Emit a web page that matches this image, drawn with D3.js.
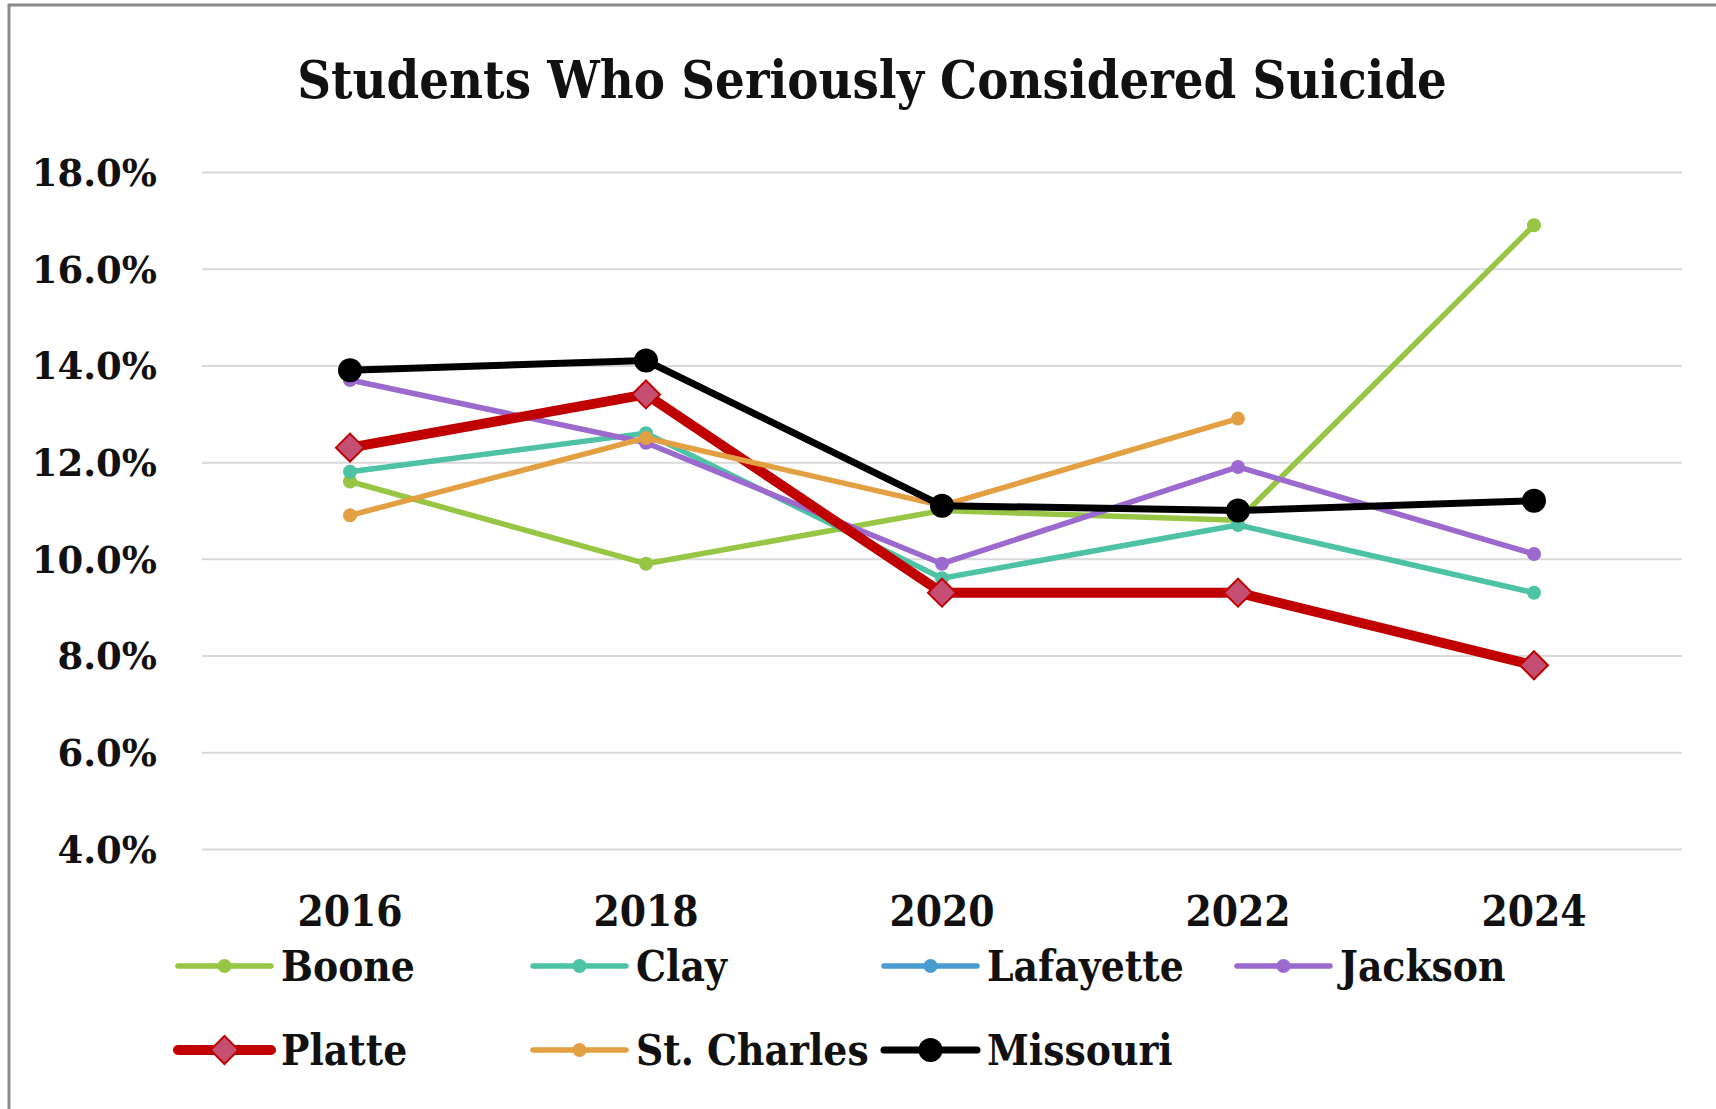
<!DOCTYPE html>
<html><head><meta charset="utf-8">
<script src="https://cdn.jsdelivr.net/npm/d3@7"></script>
<style>html,body{margin:0;padding:0;background:#fff;}svg{display:block;}</style>
</head><body>
<svg id="chart" width="1716" height="1109"></svg>
<script>
const years = ["2016","2018","2020","2022","2024"];
const yTicks = [4,6,8,10,12,14,16,18];
const boone = [11.6, 9.9, 11.0, 10.8, 16.9];
const clay = [11.8, 12.6, 9.6, 10.7, 9.3];
const lafayette = [null, null, null, null, null];
const jackson = [13.7, 12.4, 9.9, 11.9, 10.1];
const platte = [12.3, 13.4, 9.3, 9.3, 7.8];
const stCharles = [10.9, 12.5, 11.1, 12.9, null];
const missouri = [13.9, 14.1, 11.1, 11.0, 11.2];
const seriesNames = ["Boone","Clay","Lafayette","Jackson","Platte","St. Charles","Missouri"];

const styles = {
  "Boone": {color:"#97C544", w:5.5, r:7, marker:"circle"},
  "Clay": {color:"#4EC2A4", w:5.5, r:7, marker:"circle"},
  "Lafayette": {color:"#4A9BD0", w:5.5, r:7, marker:"circle"},
  "Jackson": {color:"#9C69CF", w:5.5, r:7, marker:"circle"},
  "Platte": {color:"#C00000", w:10, r:14, marker:"diamond", fill:"#C44F72"},
  "St. Charles": {color:"#E3A043", w:5.5, r:7, marker:"circle"},
  "Missouri": {color:"#000000", w:7, r:12, marker:"circle"}
};
const seriesValues = [boone, clay, lafayette, jackson, platte, stCharles, missouri];
const series = seriesNames.map((n,i)=>({name:n, values:seriesValues[i]}));

const svg = d3.select("#chart");
const serif = "'DejaVu Serif Condensed','DejaVu Serif',serif";

// frame
svg.append("rect").attr("x",0).attr("y",0).attr("width",1716).attr("height",1109).attr("fill","#fff");
svg.append("line").attr("x1",9).attr("x2",9).attr("y1",4).attr("y2",1109).attr("stroke","#8a8a8a").attr("stroke-width",3);
svg.append("line").attr("x1",8).attr("x2",1716).attr("y1",5).attr("y2",5).attr("stroke","#8a8a8a").attr("stroke-width",3);

const x = d3.scaleBand().domain(years).range([202,1682]).padding(0);
const y = d3.scaleLinear().domain([4,18]).range([849,172]);

// gridlines
const grid = svg.append("g").attr("transform","translate(202,0)")
  .call(d3.axisLeft(y).tickValues(yTicks).tickSize(-1480).tickFormat(""));
grid.select(".domain").remove();
grid.selectAll("line").attr("stroke","#d9d9d9").attr("stroke-width",2);

// y labels
const yAx = svg.append("g").attr("transform","translate(157,0)")
  .call(d3.axisLeft(y).tickValues(yTicks).tickSize(0).tickPadding(0).tickFormat(d=>d.toFixed(1)+"%"));
yAx.select(".domain").remove();
yAx.selectAll("text").attr("font-family","'DejaVu Serif',serif").attr("font-weight","bold")
  .attr("font-size",37).attr("fill","#111").attr("dy","0.36em");

// x labels
const xAx = svg.append("g").attr("transform","translate(0,896)")
  .call(d3.axisBottom(x).tickSize(0).tickPadding(0));
xAx.select(".domain").remove();
xAx.selectAll("text").attr("font-family",serif).attr("font-weight","bold").attr("font-size",42).attr("fill","#111").attr("dy","0.72em");

// title
svg.append("text").attr("x",872).attr("y",98).attr("text-anchor","middle")
  .attr("font-family",serif).attr("font-weight","bold").attr("font-size",52).attr("fill","#111")
  .text("Students Who Seriously Considered Suicide");

const line = d3.line().defined(d=>d.v!=null).x(d=>x(d.k)+x.bandwidth()/2).y(d=>y(d.v));
const diamond = r => `M0,${-r}L${r},0L0,${r}L${-r},0Z`;

function drawMarker(g, st, cx, cy){
  if(st.marker==="diamond"){
    g.append("path").attr("d",diamond(st.r)).attr("transform",`translate(${cx},${cy})`)
      .attr("fill",st.fill).attr("stroke",st.color).attr("stroke-width",2);
  } else {
    g.append("circle").attr("cx",cx).attr("cy",cy).attr("r",st.r).attr("fill",st.color);
  }
}

const plot = svg.append("g");
series.forEach(s=>{
  const st = styles[s.name];
  const pts = s.values.map((v,i)=>({k:years[i], v}));
  plot.append("path").datum(pts).attr("d",line).attr("fill","none")
    .attr("stroke",st.color).attr("stroke-width",st.w).attr("stroke-linejoin","round");
  pts.filter(p=>p.v!=null).forEach(p=>drawMarker(plot, st, x(p.k)+x.bandwidth()/2, y(p.v)));
});

// legend
const legCols = [178, 533, 884, 1237];
const legRows = [966, 1050];
const leg = svg.append("g");
series.forEach((s,i)=>{
  const st = styles[s.name];
  const cx0 = legCols[i%4], cy = legRows[Math.floor(i/4)];
  leg.append("line").attr("x1",cx0).attr("x2",cx0+93).attr("y1",cy).attr("y2",cy)
    .attr("stroke",st.color).attr("stroke-width",st.w).attr("stroke-linecap","round");
  drawMarker(leg, st, cx0+46.5, cy);
  leg.append("text").attr("x",cx0+103).attr("y",cy).attr("dy","0.36em")
    .attr("font-family",serif).attr("font-weight","bold").attr("font-size",42).attr("fill","#111").text(s.name);
});
</script>
</body></html>
